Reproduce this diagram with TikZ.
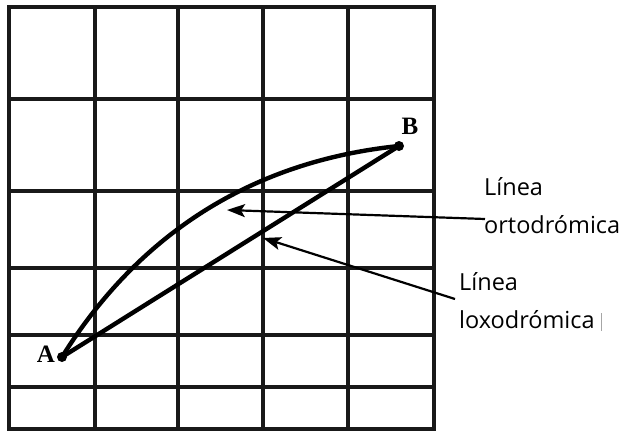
\documentclass[tikz,border=0pt]{standalone}
\usepackage{fontspec}
\setmainfont{Liberation Serif}
\newfontfamily\labelfont{Open Sans}
\usetikzlibrary{arrows.meta}
\begin{document}
\begin{tikzpicture}[x=1pt,y=-1pt,
  gridline/.style={line width=3.4pt, black!90},
  route/.style={line width=4.4pt, line cap=round},
  pointer/.style={line width=2.2pt, -{Stealth[length=18pt,width=13pt,inset=4pt]}},
  ptlabel/.style={font=\fontsize{25}{25}\selectfont\bfseries, inner sep=0pt},
  sidelabel/.style={font=\labelfont\fontsize{23.5}{38}\selectfont, align=left, inner sep=0pt, anchor=north west},
  dotmark/.style={circle, fill=black, inner sep=0pt, minimum size=10pt}]
\useasboundingbox (0,0) rectangle (625,431);
% grid
\foreach \x in {95,178,263,348} \draw[gridline] (\x,7) -- (\x,429);
\foreach \y in {99,191,268,335,387} \draw[gridline] (9,\y) -- (434,\y);
\draw[gridline, line width=3.8pt] (9,7) rectangle (434,429);
% points
\node[dotmark] (A) at (62,357) {};
\node[dotmark] (B) at (399,146) {};
\node[ptlabel, anchor=base] (lA) at (46,362) {A};
\node[ptlabel, anchor=base] (lB) at (410,134) {B};
\coordinate (c1) at (140,232);
\coordinate (c2) at (254,161);
% routes
\draw[route] (A.center) .. controls (c1) and (c2) .. (B.center);
\draw[route] (A.center) -- (B.center);
% labels
\node[sidelabel] (orto) at (484,177) {Línea\\ortodrómica};
\node[sidelabel] (loxo) at (459,272) {Línea\\loxodrómica};
\coordinate (ortoTail) at (485,219);
\coordinate (ortoTip) at (227,210);
\coordinate (loxoTail) at (455,299);
\coordinate (loxoTip) at (263,238);
\draw[pointer] (ortoTail) -- (ortoTip);
\draw[pointer] (loxoTail) -- (loxoTip);
% stray mark after label
\coordinate (m1) at (601,313);
\coordinate (m2) at (601,331);
\draw[black!35, line width=1pt] (m1) -- (m2);
\end{tikzpicture}
\end{document}
